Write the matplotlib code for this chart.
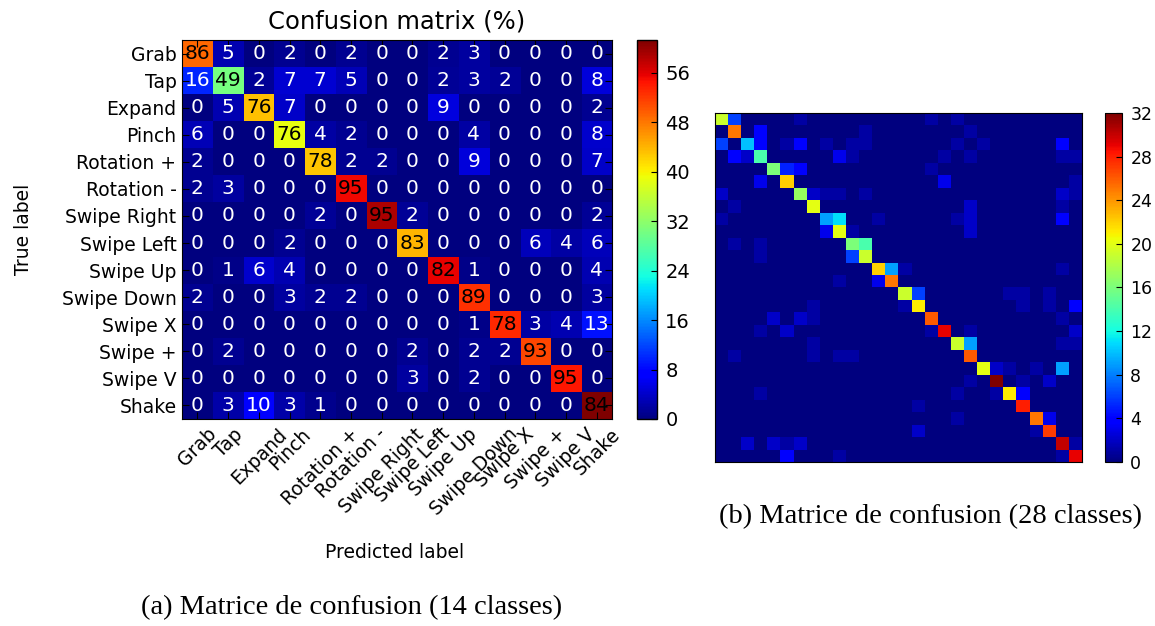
import numpy as np
import matplotlib
matplotlib.use("Agg")
import matplotlib.pyplot as plt

# 14-class gesture matrix: percentages written in the cells
classes = ["Grab", "Tap", "Expand", "Pinch", "Rotation +", "Rotation -",
           "Swipe Right", "Swipe Left", "Swipe Up", "Swipe Down", "Swipe X",
           "Swipe +", "Swipe V", "Shake"]
pct = [
    [86, 5, 0, 2, 0, 2, 0, 0, 2, 3, 0, 0, 0, 0],
    [16, 49, 2, 7, 7, 5, 0, 0, 2, 3, 2, 0, 0, 8],
    [0, 5, 76, 7, 0, 0, 0, 0, 9, 0, 0, 0, 0, 2],
    [6, 0, 0, 76, 4, 2, 0, 0, 0, 4, 0, 0, 0, 8],
    [2, 0, 0, 0, 78, 2, 2, 0, 0, 9, 0, 0, 0, 7],
    [2, 3, 0, 0, 0, 95, 0, 0, 0, 0, 0, 0, 0, 0],
    [0, 0, 0, 0, 2, 0, 95, 2, 0, 0, 0, 0, 0, 2],
    [0, 0, 0, 2, 0, 0, 0, 83, 0, 0, 0, 6, 4, 6],
    [0, 1, 6, 4, 0, 0, 0, 0, 82, 1, 0, 0, 0, 4],
    [2, 0, 0, 3, 2, 2, 0, 0, 0, 89, 0, 0, 0, 3],
    [0, 0, 0, 0, 0, 0, 0, 0, 0, 1, 78, 3, 4, 13],
    [0, 2, 0, 0, 0, 0, 0, 2, 0, 2, 2, 93, 0, 0],
    [0, 0, 0, 0, 0, 0, 0, 3, 0, 2, 0, 0, 95, 0],
    [0, 3, 10, 3, 1, 0, 0, 0, 0, 0, 0, 0, 0, 84],
]
# samples per true class (the colours follow raw counts, not percentages)
n_samples = [57, 62, 57, 51, 55, 58, 62, 53, 68, 59, 68, 55, 57, 73]
cbar1_ticks = [0, 8, 16, 24, 32, 40, 48, 56]

# 28-class matrix: diagonal counts plus the off-diagonal confusions
diag28 = [19, 25, 10, 14, 16, 22, 17, 20, 9, 20, 16, 19, 22, 25,
          19, 21, 26, 29, 19, 26, 20, 32, 21, 28, 25, 27, 30, 29]
off28 = [
    (0, 1, 6), (0, 6, 1), (0, 16, 1), (0, 18, 1),
    (1, 3, 4), (1, 11, 1), (1, 19, 1),
    (2, 0, 6), (2, 3, 4), (2, 5, 1), (2, 6, 4), (2, 8, 1), (2, 10, 1),
    (2, 11, 1), (2, 18, 1), (2, 20, 1), (2, 26, 4),
    (3, 1, 4), (3, 2, 2), (3, 9, 3), (3, 10, 1), (3, 17, 1), (3, 19, 1),
    (3, 26, 1), (3, 27, 1),
    (4, 5, 5), (4, 6, 4), (4, 16, 1),
    (5, 3, 3), (5, 17, 3), (5, 27, 1),
    (6, 0, 2), (6, 7, 2), (6, 8, 1), (6, 9, 1), (6, 11, 1), (6, 26, 2),
    (6, 27, 1),
    (7, 1, 1), (7, 19, 2), (7, 26, 1),
    (8, 0, 1), (8, 9, 11), (8, 12, 1), (8, 18, 1), (8, 19, 2), (8, 26, 4),
    (9, 8, 3), (9, 10, 1), (9, 19, 2),
    (10, 1, 1), (10, 3, 1), (10, 11, 14),
    (11, 3, 1), (11, 10, 6),
    (12, 13, 9), (12, 14, 1), (12, 26, 1),
    (13, 9, 1), (13, 12, 3),
    (14, 15, 6), (14, 22, 1), (14, 23, 1), (14, 25, 1),
    (15, 7, 1), (15, 14, 1), (15, 23, 1), (15, 25, 1), (15, 27, 4),
    (16, 4, 2), (16, 6, 2), (16, 7, 1), (16, 26, 1),
    (17, 3, 1), (17, 5, 2), (17, 16, 1), (17, 19, 1), (17, 27, 2),
    (18, 7, 1), (18, 19, 9), (18, 26, 1), (18, 27, 1),
    (19, 1, 1), (19, 7, 1), (19, 9, 1), (19, 10, 1),
    (20, 21, 2), (20, 22, 1), (20, 24, 1), (20, 26, 9),
    (21, 19, 1), (21, 23, 1), (21, 25, 2),
    (22, 3, 1), (22, 18, 1), (22, 21, 1), (22, 23, 4),
    (23, 15, 1),
    (24, 18, 1), (24, 25, 3),
    (25, 15, 2), (25, 24, 1),
    (26, 2, 2), (26, 4, 2), (26, 5, 1), (26, 6, 2), (26, 27, 1),
    (27, 5, 4), (27, 9, 1), (27, 26, 1),
]
cbar2_ticks = [0, 4, 8, 12, 16, 20, 24, 28, 32]


def main():
    fig = plt.figure(figsize=(11.55, 6.26), dpi=100)
    fig.patch.set_facecolor("white")

    # ---- (a) 14 classes ----
    pct_arr = np.array(pct, dtype=float)
    counts = pct_arr * np.array(n_samples)[:, None] / 100.0
    vmax1 = counts.max()

    ax1 = fig.add_axes([0.1576, 0.3307, 0.3723, 0.6054])
    im1 = ax1.imshow(counts, cmap="jet", interpolation="nearest",
                     aspect="auto", vmin=0, vmax=vmax1)
    ax1.set_title("Confusion matrix (%)", fontsize=17.5, pad=8)
    ticks = np.arange(len(classes))
    ax1.set_xticks(ticks)
    ax1.set_xticklabels(classes, rotation=45, fontsize=13.5)
    ax1.set_yticks(ticks)
    ax1.set_yticklabels(classes, fontsize=13.5)
    ax1.tick_params(direction="in", top=True, right=True, length=5,
                    width=0.8, pad=4)
    for i in range(len(classes)):
        for j in range(len(classes)):
            col = "black" if counts[i, j] > 0.45 * vmax1 else "white"
            ax1.text(j, i, "%d" % pct[i][j], ha="center", va="center",
                     fontsize=14.5, color=col)
    fig.text(0.0200, 0.633, "True label", rotation=90, ha="center",
             va="center", fontsize=13.5)
    fig.text(0.342, 0.118, "Predicted label", ha="center", va="center",
             fontsize=13.5)

    cax1 = fig.add_axes([0.5515, 0.3307, 0.0173, 0.6054])
    cb1 = fig.colorbar(im1, cax=cax1, ticks=cbar1_ticks)
    cb1.ax.tick_params(labelsize=14, direction="in", length=4, pad=6)
    cb1.outline.set_linewidth(1.0)

    # ---- (b) 28 classes ----
    cm28 = np.zeros((len(diag28), len(diag28)))
    for k, v in enumerate(diag28):
        cm28[k, k] = v
    for r, c, v in off28:
        cm28[r, c] = v

    ax2 = fig.add_axes([0.6190, 0.2620, 0.3177, 0.5575])
    im2 = ax2.imshow(cm28, cmap="jet", interpolation="nearest",
                     aspect="auto", vmin=0, vmax=cm28.max())
    ax2.set_xticks([])
    ax2.set_yticks([])

    cax2 = fig.add_axes([0.9567, 0.2620, 0.0147, 0.5575])
    cb2 = fig.colorbar(im2, cax=cax2, ticks=cbar2_ticks)
    cb2.ax.tick_params(labelsize=12.5, direction="in", length=4, pad=6)

    # captions
    fig.text(0.304, 0.029, "(a) Matrice de confusion (14 classes)",
             ha="center", va="center", fontsize=20.5,
             family="Liberation Serif")
    fig.text(0.806, 0.174, "(b) Matrice de confusion (28 classes)",
             ha="center", va="center", fontsize=20.5,
             family="Liberation Serif")

    fig.savefig("out.png", dpi=100)


if __name__ == "__main__":
    main()
